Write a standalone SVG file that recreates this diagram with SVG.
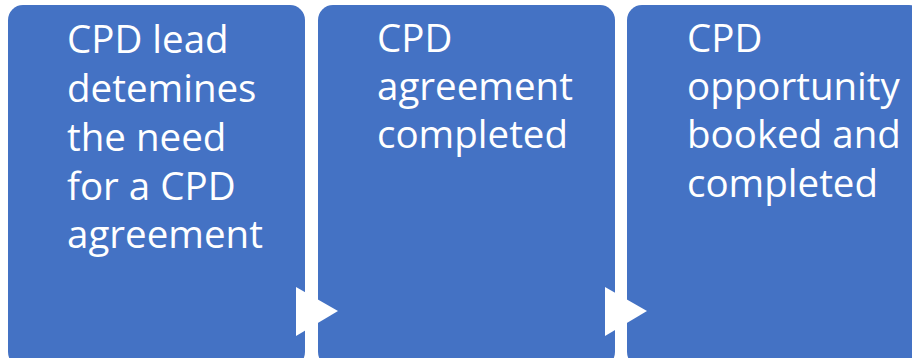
<svg xmlns="http://www.w3.org/2000/svg" width="912" height="358" viewBox="0 0 912 358">
<style>
.box{fill:#4472C4;}
.lbl{font-family:"Open Sans","Liberation Sans",sans-serif;font-size:38.5px;fill:#FFFFFF;}
.arr{fill:#FFFFFF;}
</style>
<rect width="912" height="358" fill="#FFFFFF"/>
<g id="node1">
<rect class="box" x="8" y="5" width="297" height="362" rx="15" ry="15"/>
<text class="lbl" x="67"><tspan x="67" y="53">CPD lead</tspan><tspan x="67" y="102">detemines</tspan><tspan x="67" y="151">the need</tspan><tspan x="67" y="200">for a CPD</tspan><tspan x="67" y="248">agreement</tspan></text>
</g>
<g id="node2">
<rect class="box" x="318" y="5" width="297" height="362" rx="15" ry="15"/>
<text class="lbl" x="377"><tspan x="377" y="52">CPD</tspan><tspan x="377" y="100">agreement</tspan><tspan x="377" y="148">completed</tspan></text>
</g>
<g id="node3">
<rect class="box" x="627" y="5" width="297" height="362" rx="15" ry="15"/>
<text class="lbl" x="687"><tspan x="687" y="52">CPD</tspan><tspan x="687" y="100">opportunity</tspan><tspan x="687" y="148">booked and</tspan><tspan x="687" y="197">completed</tspan></text>
</g>
<g id="connectors">
<polygon class="arr" points="296,287 338,311 296,336"/>
<polygon class="arr" points="605,287 647,311 605,336"/>
</g>
</svg>
